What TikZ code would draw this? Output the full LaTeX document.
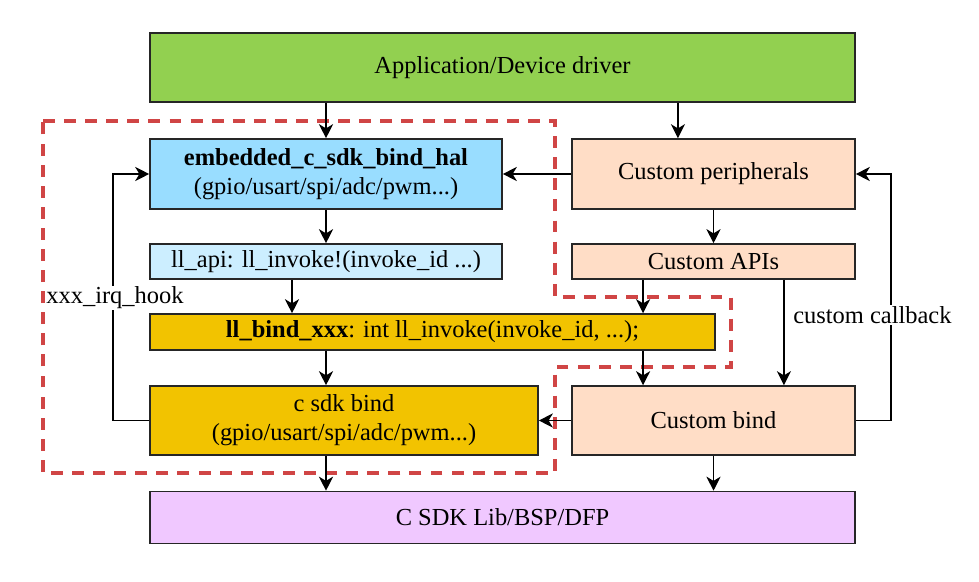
\documentclass[tikz,border=0pt]{standalone}
\usepackage{fontspec}
\setmainfont{Liberation Serif}
\usepackage{tikz}
\usetikzlibrary{arrows.meta, positioning}

\definecolor{appgreen}{RGB}{146,208,80}
\definecolor{halblue}{RGB}{153,221,255}
\definecolor{apiblue}{RGB}{204,238,255}
\definecolor{bindgold}{RGB}{242,195,0}
\definecolor{custpeach}{RGB}{255,221,198}
\definecolor{liblilac}{RGB}{240,200,255}
\definecolor{dashred}{RGB}{208,69,69}

\begin{document}
\begin{tikzpicture}[
    box/.style={draw=black!85, line width=1.1pt, inner sep=2pt, align=center},
    lbl/.style={fill=white, inner sep=1pt},
    every node/.style={font=\fontsize{17.4}{20.6}\selectfont},
    >={Stealth[length=10pt, width=10pt, inset=3pt]},
    every path/.style={line width=1.1pt}
]
    \useasboundingbox (0,0) rectangle (24.475,-14.55);

    % bind layer
    \draw[dashred, line width=2.4pt, dash pattern=on 8.5pt off 6.5pt]
        (1.075,-3.025) -- (13.875,-3.025) -- (13.875,-7.425) -- (18.275,-7.425)
        -- (18.275,-9.175) -- (13.875,-9.175) -- (13.875,-11.825) -- (1.075,-11.825) -- cycle;

    \node[box, fill=appgreen, minimum width=17.625cm, minimum height=1.725cm] (app) at (12.5625,-1.6875) {Application/Device driver};
    \node[box, fill=halblue, minimum width=8.8cm, minimum height=1.75cm] (hal) at (8.15,-4.35) {\textbf{embedded\_c\_sdk\_bind\_hal}\\(gpio/usart/spi/adc/pwm...)};
    \node[box, fill=custpeach, minimum width=7.075cm, minimum height=1.75cm] (periph) at (17.8375,-4.35) {Custom peripherals};
    \node[box, fill=apiblue, minimum width=8.8cm, minimum height=0.875cm] (llapi) at (8.15,-6.5375) {ll\_api: ll\_invoke!(invoke\_id ...)};
    \node[box, fill=custpeach, minimum width=7.075cm, minimum height=0.875cm] (capi) at (17.8375,-6.5375) {Custom APIs};
    \node[box, fill=bindgold, minimum width=14.125cm, minimum height=0.9cm] (llbind) at (10.8125,-8.3) {\textbf{ll\_bind\_xxx}: int ll\_invoke(invoke\_id, ...);};
    \node[box, fill=bindgold, minimum width=9.7cm, minimum height=1.725cm] (csdk) at (8.6,-10.5125) {c sdk bind\\(gpio/usart/spi/adc/pwm...)};
    \node[box, fill=custpeach, minimum width=7.075cm, minimum height=1.725cm] (cbind) at (17.8375,-10.5125) {Custom bind};
    \node[box, fill=liblilac, minimum width=17.625cm, minimum height=1.3cm] (lib) at (12.5625,-12.9375) {C SDK Lib/BSP/DFP};

    \coordinate (apileft) at ([xshift=-1.76cm]capi.south);
    \coordinate (apiright) at ([xshift=1.76cm]capi.south);

    \draw[->] (app.south -| hal.north) -- (hal.north);
    \draw[->] ([xshift=-0.89cm]periph.north |- app.south) -- ([xshift=-0.89cm]periph.north);
    \draw[->] (periph.west) -- (hal.east);
    \draw[->] (hal.south) -- (llapi.north);
    \draw[->] (periph.south) -- (capi.north);
    \draw[->] ([xshift=-0.85cm]llapi.south) -- ([xshift=-0.85cm]llapi.south |- llbind.north);
    \draw[->] (apileft) -- (apileft |- llbind.north);
    \draw[->] (llbind.south -| hal) -- (csdk.north -| hal);
    \draw[->] (llbind.south -| apileft) -- (cbind.north -| apileft);
    \draw[->] (apiright) -- (apiright |- cbind.north);
    \draw[->] (cbind.west) -- (csdk.east);
    \draw[->] (csdk.south -| hal) -- (lib.north -| hal);
    \draw[->] (cbind.south) -- (cbind.south |- lib.north);
    \draw[->] (cbind.east) -- ++(0.875cm,0) |- (periph.east);
    \draw[->] (csdk.west) -- ++(-0.9cm,0) |- (hal.west);

    \node[lbl] (callback) at (21.81,-7.875) {custom callback};
    \node[lbl] (irqhook) at (2.875,-7.45) {xxx\_irq\_hook};
\end{tikzpicture}
\end{document}
